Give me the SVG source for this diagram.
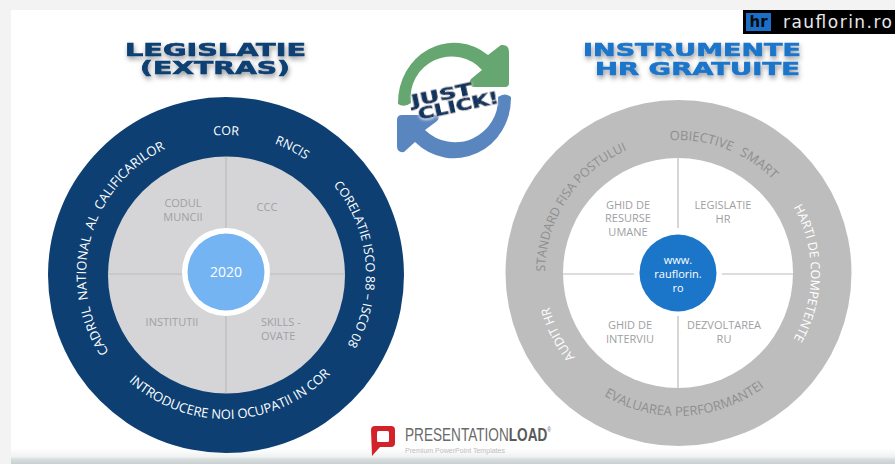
<svg xmlns="http://www.w3.org/2000/svg" width="895" height="464" viewBox="0 0 895 464">
<style>
.t{font-family:"Open Sans","Liberation Sans",sans-serif}
.lbl{font-size:11px;fill:#a0a0a3;text-anchor:middle}
.arc{font-size:12.5px;text-anchor:middle}
.wide{font-size:13px}
.w{fill:#fff}.g{fill:#8f8f8f}
.title{font-family:"DejaVu Sans",sans-serif;font-weight:bold;font-size:17px;text-anchor:start;stroke-width:.6}
.cross{stroke:#bcbcbe;stroke-width:1.2;fill:none}
.lg{font-family:"Liberation Sans",sans-serif}
</style>
<defs>
<linearGradient id="bot" x1="0" y1="0" x2="0" y2="1"><stop offset="0" stop-color="#fff"/><stop offset=".55" stop-color="#f0f2f2"/><stop offset=".7" stop-color="#d8dddd"/><stop offset="1" stop-color="#c9d0d2"/></linearGradient>
<filter id="sh" x="-10%" y="-40%" width="120%" height="200%"><feDropShadow dx="1" dy="3" stdDeviation="2.5" flood-color="#000" flood-opacity=".4"/></filter>
<filter id="halo" x="-20%" y="-20%" width="140%" height="140%"><feDropShadow dx="0" dy="1" stdDeviation="1.5" flood-color="#fff" flood-opacity="1"/></filter>
<path id="L140" d="M226 415A140 140 0 1 1 226 135A140 140 0 1 1 226 415"/>
<path id="Lb144" d="M226 131A144 144 0 1 0 226 419A144 144 0 1 0 226 131"/>
<path id="R133" d="M678 406A133 133 0 1 1 678 140A133 133 0 1 1 678 406"/>
<path id="Rb143" d="M678 130A143 143 0 1 0 678 416A143 143 0 1 0 678 130"/>
</defs>
<rect width="895" height="464" fill="#f3f3f3"/>
<rect x="11" y="10" width="884" height="440" fill="#fff"/>
<rect x="11" y="448" width="884" height="16" fill="url(#bot)"/>

<g id="badge">
<rect x="743" y="10" width="152" height="24" fill="#000"/>
<rect x="746" y="13" width="25" height="18" fill="#1b6fc8"/>
<text x="758.500" y="27" font-family="DejaVu Sans,sans-serif" font-weight="bold" font-size="15" text-anchor="middle" fill="#0a0a0a">hr</text>
<text x="783" y="28" font-family="DejaVu Sans,sans-serif" font-size="17" fill="#e8e8e8" textLength="109">rauflorin.ro</text>
</g>

<g id="title-left" filter="url(#sh)" fill="#0d3f73" stroke="#0d3f73">
<text class="title" x="125" y="56" textLength="181" lengthAdjust="spacingAndGlyphs">LEGISLATIE</text>
<text class="title" x="140" y="74" textLength="150" lengthAdjust="spacingAndGlyphs">(EXTRAS)</text>
</g>
<g id="title-right" filter="url(#sh)" fill="#1b75c9" stroke="#1b75c9">
<text class="title" x="583" y="56" textLength="218" lengthAdjust="spacingAndGlyphs">INSTRUMENTE</text>
<text class="title" x="595" y="75" textLength="205" lengthAdjust="spacingAndGlyphs">HR GRATUITE</text>
</g>

<g id="just-click">
<path d="M398 104A56 60 0 0 1 488 55L501 45Q509 44 509 52L509 83Q509 87 505 87L473 87Q467 84 471 79L482 70A41 41 0 0 0 411 103Q404 108 398 104Z" fill="#66a670"/>
<path d="M511 97A57 60 0 0 1 415 142L404 152Q397 153 397 146L397 120Q397 115 402 115L436 115Q441 117 437 121L425 130A43 43 0 0 0 498 97Q505 92 511 97Z" fill="#5a86c0"/>
<g transform="rotate(-12 455 100)" filter="url(#halo)" fill="#0d3560" stroke="#0d3560" stroke-width=".8" font-family="DejaVu Sans,sans-serif" font-weight="bold" font-size="15">
<text x="412" y="98" textLength="62" lengthAdjust="spacingAndGlyphs">JUST</text>
<text x="416" y="112" textLength="82" lengthAdjust="spacingAndGlyphs">CLICK!</text>
</g>
</g>

<g id="wheel-left">
<circle cx="226" cy="275" r="178" fill="#0d3f73"/>
<circle cx="226.500" cy="275" r="118.500" fill="#d5d5d7"/>
<path class="cross" d="M226 157V393M108 274H345"/>
<circle cx="226" cy="272" r="44" fill="#fff"/>
<circle cx="226" cy="272" r="38.500" fill="#74b4f2"/>
<text class="t w" x="226" y="277" font-size="14" text-anchor="middle">2020</text>
</g>
<g id="left-inner" class="t">
<text class="lbl" x="183" y="207">CODUL</text><text class="lbl" x="183" y="221">MUNCII</text>
<text class="lbl" x="267" y="211">CCC</text>
<text class="lbl" x="172" y="326">INSTITUTII</text>
<text class="lbl" x="261" y="326" style="text-anchor:start">SKILLS -</text><text class="lbl" x="261" y="340" style="text-anchor:start">OVATE</text>
</g>
<g id="left-ring" class="t">
<text class="arc w"><textPath href="#L140" startOffset="50%">COR</textPath></text>
<text class="arc w" transform="rotate(27.500 226 275)"><textPath href="#L140" startOffset="50%">RNCIS</textPath></text>
<text class="arc w" transform="rotate(85 226 275)"><textPath href="#L140" startOffset="50%">CORELATIE ISCO 88 – ISCO 08</textPath></text>
<text class="arc wide w" transform="rotate(-74.500 226 275)" word-spacing="3"><textPath href="#L140" startOffset="50%">CADRUL NATIONAL AL CALIFICARILOR</textPath></text>
<text class="arc wide w" transform="rotate(-2 226 275)"><textPath href="#Lb144" startOffset="50%">INTRODUCERE NOI OCUPATII IN COR</textPath></text>
</g>

<g id="wheel-right">
<circle cx="678.500" cy="273" r="173" fill="#bdbdbd"/>
<circle cx="678" cy="273" r="115" fill="#fff"/>
<path class="cross" d="M678 158V388M563 274H793"/>
<circle cx="678" cy="272" r="44" fill="#fff"/>
<circle cx="678" cy="273" r="38.500" fill="#1b75c9"/>
<g class="t w" font-size="11" text-anchor="middle"><text x="678" y="264">www.</text><text x="678" y="278">rauflorin.</text><text x="678" y="292">ro</text></g>
</g>
<g id="right-inner" class="t">
<text class="lbl" x="628" y="209">GHID DE</text><text class="lbl" x="628" y="222">RESURSE</text><text class="lbl" x="628" y="236">UMANE</text>
<text class="lbl" x="723" y="209">LEGISLATIE</text><text class="lbl" x="723" y="223">HR</text>
<text class="lbl" x="630" y="329">GHID DE</text><text class="lbl" x="630" y="343">INTERVIU</text>
<text class="lbl" x="724" y="329">DEZVOLTAREA</text><text class="lbl" x="724" y="343">RU</text>
</g>
<g id="right-ring" class="t">
<text class="arc wide g" transform="rotate(21 678 273)" word-spacing="5"><textPath href="#R133" startOffset="50%">OBIECTIVE SMART</textPath></text>
<text class="arc g" transform="rotate(-56 678 273)"><textPath href="#R133" startOffset="50%">STANDARD FISA POSTULUI</textPath></text>
<text class="arc w" transform="rotate(90 678 273)"><textPath href="#R133" startOffset="50%">HARTI DE COMPETENTE</textPath></text>
<text class="arc w" transform="rotate(-117 678 273)"><textPath href="#R133" startOffset="50%">AUDIT HR</textPath></text>
<text class="arc wide g" transform="rotate(-3 678 273)"><textPath href="#Rb143" startOffset="50%">EVALUAREA PERFORMANTEI</textPath></text>
</g>

<g id="logo">
<path d="M371 430Q371 426 375 426L391 426Q395 426 395 430L395 443Q395 447 391 447L380 447L372 456Z" fill="#d2232a"/>
<rect x="377" y="431" width="12" height="11" rx="1.500" fill="#fff"/>
<text class="lg" x="405" y="441" font-size="19" fill="#6a6a6a" textLength="146" lengthAdjust="spacingAndGlyphs">PRESENTATION<tspan font-weight="bold" fill="#5a5a5a">LOAD</tspan><tspan font-size="7" dy="-9">®</tspan></text>
<text class="lg" x="405" y="453" font-size="7" fill="#c0c0c0" textLength="100" lengthAdjust="spacingAndGlyphs">Premium PowerPoint Templates</text>
</g>
</svg>
